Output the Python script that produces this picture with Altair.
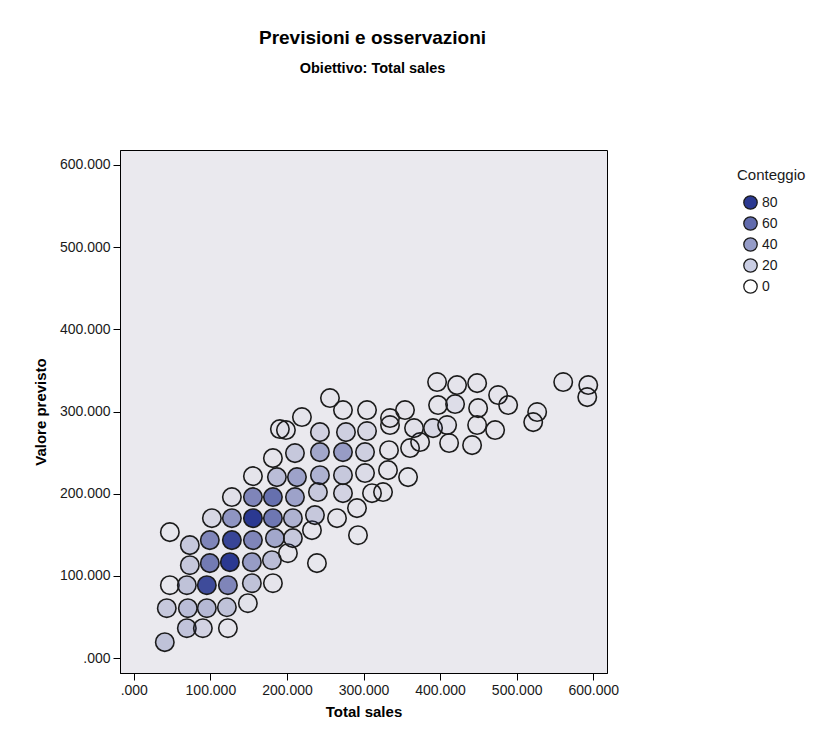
import altair as alt
import pandas as pd

# Binned observations: Total sales (x), predicted value (y), count in bin
x_sales = [40.5, 69.3, 90.2, 122.9, 43.1, 70.6, 95.4, 121.6, 149.0, 47.1,
           69.3, 95.4, 122.9, 154.2, 181.7, 73.2, 99.3, 125.5, 154.2, 180.4,
           201.3, 239.2, 47.1, 73.2, 99.3, 128.1, 155.6, 184.3, 207.8, 232.7,
           292.8, 102.0, 128.1, 155.6, 181.7, 207.8, 236.6, 265.4, 291.5, 128.1,
           155.6, 181.7, 210.5, 240.5, 273.2, 311.1, 325.5, 155.6, 186.9, 213.1,
           243.1, 273.2, 302.0, 332.0, 358.2, 181.7, 210.5, 243.1, 273.2, 302.0,
           333.3, 360.8, 373.9, 411.8, 441.8, 190.8, 198.7, 243.1, 277.1, 304.6,
           334.6, 366.0, 390.8, 409.2, 448.4, 471.9, 219.6, 256.2, 273.2, 304.6,
           334.6, 354.2, 397.4, 419.6, 449.7, 475.8, 488.9, 396.1, 422.2, 448.4,
           560.8, 593.5, 592.2, 526.8, 521.6]
y_pred = [19.5, 36.5, 36.5, 36.5, 60.8, 60.8, 60.8, 62.0, 66.9, 88.8,
          88.8, 88.8, 88.8, 91.2, 91.2, 113.1, 115.6, 116.8, 116.8, 119.2,
          127.7, 115.6, 153.3, 137.5, 143.6, 143.6, 143.6, 146.0, 146.0, 155.7,
          149.6, 170.3, 170.3, 170.3, 170.3, 170.3, 174.0, 170.3, 182.5, 195.9,
          195.9, 195.9, 195.9, 202.0, 200.7, 200.7, 202.0, 221.4, 220.2, 220.2,
          222.6, 222.6, 225.1, 228.7, 220.2, 243.3, 249.4, 250.6, 250.6, 250.6,
          253.0, 255.5, 262.8, 261.6, 259.1, 278.6, 277.4, 274.9, 274.9, 276.2,
          283.5, 279.8, 279.8, 283.5, 283.5, 277.4, 293.2, 316.3, 301.7, 301.7,
          292.0, 301.7, 307.8, 309.0, 304.1, 320.0, 307.8, 335.8, 332.1, 334.5,
          335.8, 332.1, 317.5, 299.3, 287.1]
counts = [18, 17, 10, 2, 15, 20, 22, 18, 3, 1,
          18, 72, 45, 18, 2, 15, 50, 82, 35, 20,
          2, 1, 1, 15, 45, 75, 45, 30, 15, 2,
          1, 8, 38, 80, 52, 25, 15, 2, 2, 4,
          45, 55, 32, 15, 10, 2, 2, 2, 20, 32,
          25, 15, 6, 2, 1, 2, 15, 30, 35, 12,
          2, 2, 2, 2, 2, 2, 2, 10, 12, 8,
          2, 4, 8, 4, 2, 2, 2, 2, 2, 2,
          2, 2, 2, 5, 2, 2, 2, 2, 2, 2,
          2, 2, 2, 2, 2]

tick_values = [0, 100, 200, 300, 400, 500, 600]
legend_values = [80, 60, 40, 20, 0]

df = pd.DataFrame({"Total sales": x_sales, "Valore previsto": y_pred, "Conteggio": counts})

fmt = "datum.value == 0 ? '.000' : format(datum.value, '.3f')"

chart = alt.Chart(df).mark_circle(
    size=340, stroke="#1c1c1c", strokeWidth=1.6, opacity=1, strokeOpacity=1
).encode(
    x=alt.X("Total sales:Q",
            scale=alt.Scale(domain=[-18, 618], nice=False, zero=False),
            axis=alt.Axis(values=tick_values, labelExpr=fmt, title="Total sales",
                          titlePadding=7)),
    y=alt.Y("Valore previsto:Q",
            scale=alt.Scale(domain=[-18, 618], nice=False, zero=False),
            axis=alt.Axis(values=tick_values, labelExpr=fmt, title="Valore previsto",
                          titlePadding=11)),
    fill=alt.Fill(
        "Conteggio:Q",
        scale=alt.Scale(domain=[0, 80],
                        range=["rgba(39,53,143,0)", "rgba(39,53,143,0.98)"],
                        clamp=True),
        legend=alt.Legend(type="symbol", values=legend_values, title="Conteggio",
                          orient="none", legendX=617, legendY=18,
                          symbolType="circle", symbolSize=180, symbolOffset=6,
                          symbolStrokeColor="#1c1c1c", symbolStrokeWidth=1.3,
                          symbolOpacity=1,
                          labelFontSize=14, titleFontSize=15,
                          titleFontWeight="normal", titleColor="#1a1a1a",
                          labelColor="#1a1a1a", titlePadding=12, labelOffset=4,
                          rowPadding=2, labelFont="Liberation Sans",
                          titleFont="Liberation Sans", format="d")),
).properties(
    width=487, height=523,
    autosize="none",
    padding={"left": 112, "top": 142, "right": 209, "bottom": 49},
    title=alt.TitleParams(
        "Previsioni e osservazioni", subtitle="Obiettivo: Total sales",
        anchor="middle", font="Liberation Sans", fontSize=19, fontWeight="bold",
        color="black", subtitleFont="Liberation Sans", subtitleFontSize=14.5,
        subtitleFontWeight="bold", subtitleColor="black", offset=75,
        subtitlePadding=14, dx=9),
).configure_view(
    fill="#EAE9EE", stroke="black", strokeWidth=1
).configure_axis(
    grid=False, domainColor="black", tickColor="black", tickSize=7,
    labelColor="#1a1a1a", labelFont="Liberation Sans", labelFontSize=14,
    titleFont="Liberation Sans", titleFontSize=15, titleFontWeight="bold",
    titleColor="black", labelPadding=3
)

chart.save("out.html", embed_options={"renderer": "svg", "actions": False})
